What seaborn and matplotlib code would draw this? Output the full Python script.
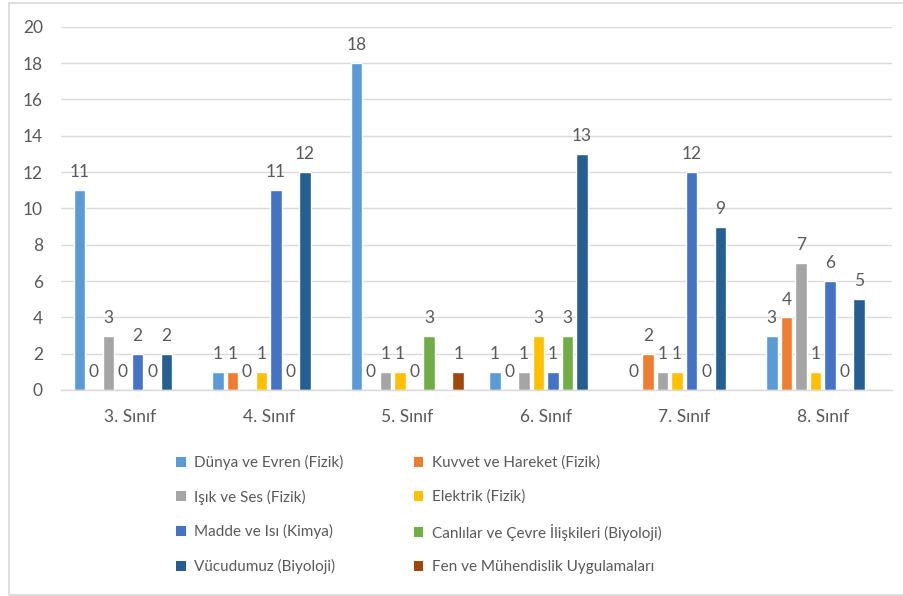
import numpy as np
import pandas as pd
import matplotlib
matplotlib.use("Agg")
import matplotlib.pyplot as plt
from matplotlib.patches import Patch, Rectangle
import seaborn as sns

# ---- data ----
categories = ["3. Sınıf", "4. Sınıf", "5. Sınıf", "6. Sınıf", "7. Sınıf", "8. Sınıf"]
series = [
    "Dünya ve Evren (Fizik)",
    "Kuvvet ve Hareket (Fizik)",
    "Işık ve Ses (Fizik)",
    "Elektrik (Fizik)",
    "Madde ve Isı (Kimya)",
    "Canlılar ve Çevre İlişkileri (Biyoloji)",
    "Vücudumuz (Biyoloji)",
    "Fen ve Mühendislik Uygulamaları",
]
nan = np.nan
dunya = [11, 1, 18, 1, 0, 3]
kuvvet = [0, 1, 0, 0, 2, 4]
isik = [3, 0, 1, 1, 1, 7]
elektrik = [0, 1, 1, 3, 1, 1]
madde = [2, 11, 0, 1, 12, 6]
canlilar = [0, 0, 3, 3, 0, 0]
vucud = [2, 12, nan, 13, 9, 5]
fen = [nan, nan, 1, nan, nan, nan]
values = [dunya, kuvvet, isik, elektrik, madde, canlilar, vucud, fen]
colors = ["#5B9BD5", "#ED7D31", "#A5A5A5", "#FFC000",
          "#4472C4", "#70AD47", "#255E91", "#9E480E"]
yticks = [0, 2, 4, 6, 8, 10, 12, 14, 16, 18, 20]

rows = []
for s, vals in zip(series, values):
    for c, v in zip(categories, vals):
        rows.append({"sinif": c, "konu": s, "deger": v})
df = pd.DataFrame(rows).dropna()

# ---- style ----
sns.set_theme(style="white")
plt.rcParams["font.family"] = ["Lato", "DejaVu Sans"]
txt = "#595959"
grid = "#D9D9D9"

W, H = 904, 596
fig = plt.figure(figsize=(W / 100, H / 100), dpi=100)
ax = fig.add_axes([61 / W, (H - 390) / H, (892 - 61) / W, (390 - 26.7) / H])

sns.barplot(data=df, x="sinif", y="deger", hue="konu", order=categories,
            hue_order=series, palette=colors, saturation=1, width=0.84,
            gap=0.2, errorbar=None, legend=False, ax=ax)

for cont in ax.containers:
    labels = ["" if np.isnan(v) else f"{v:g}" for v in cont.datavalues]
    ax.bar_label(cont, labels=labels, padding=7, color=txt, fontsize=12.5)

ax.set_ylim(0, 20)
ax.set_yticks(yticks)
ax.set_xlim(-0.5, len(categories) - 0.5)
ax.yaxis.grid(True, color=grid, linewidth=1.0)
ax.set_axisbelow(True)
for sp in ["top", "right", "left"]:
    ax.spines[sp].set_visible(False)
ax.spines["bottom"].set_color(grid)
ax.spines["bottom"].set_linewidth(1.0)
ax.tick_params(axis="both", length=0, labelsize=12.5, labelcolor=txt)
ax.tick_params(axis="y", pad=13)
ax.tick_params(axis="x", pad=14)
ax.set_xlabel("")
ax.set_ylabel("")

# legend (Excel order: row-wise across two columns)
handles = [Patch(facecolor=c, edgecolor="none") for c in colors]
order = [0, 2, 4, 6, 1, 3, 5, 7]
leg = fig.legend([handles[i] for i in order], [series[i] for i in order],
                 ncol=2, loc="upper left", bbox_to_anchor=(170 / W, 1 - 449 / H),
                 frameon=False, fontsize=11, labelcolor=txt,
                 handlelength=0.62, handleheight=0.62, handletextpad=0.55,
                 columnspacing=4.6, labelspacing=1.28, borderaxespad=0)

# chart border
fig.patches.append(Rectangle((8.5 / W, 1.5 / H), 1.2, (593.5 - 1.5) / H,
                             transform=fig.transFigure, fill=False,
                             edgecolor=grid, linewidth=1.2))

fig.savefig("out.png", dpi=100)
